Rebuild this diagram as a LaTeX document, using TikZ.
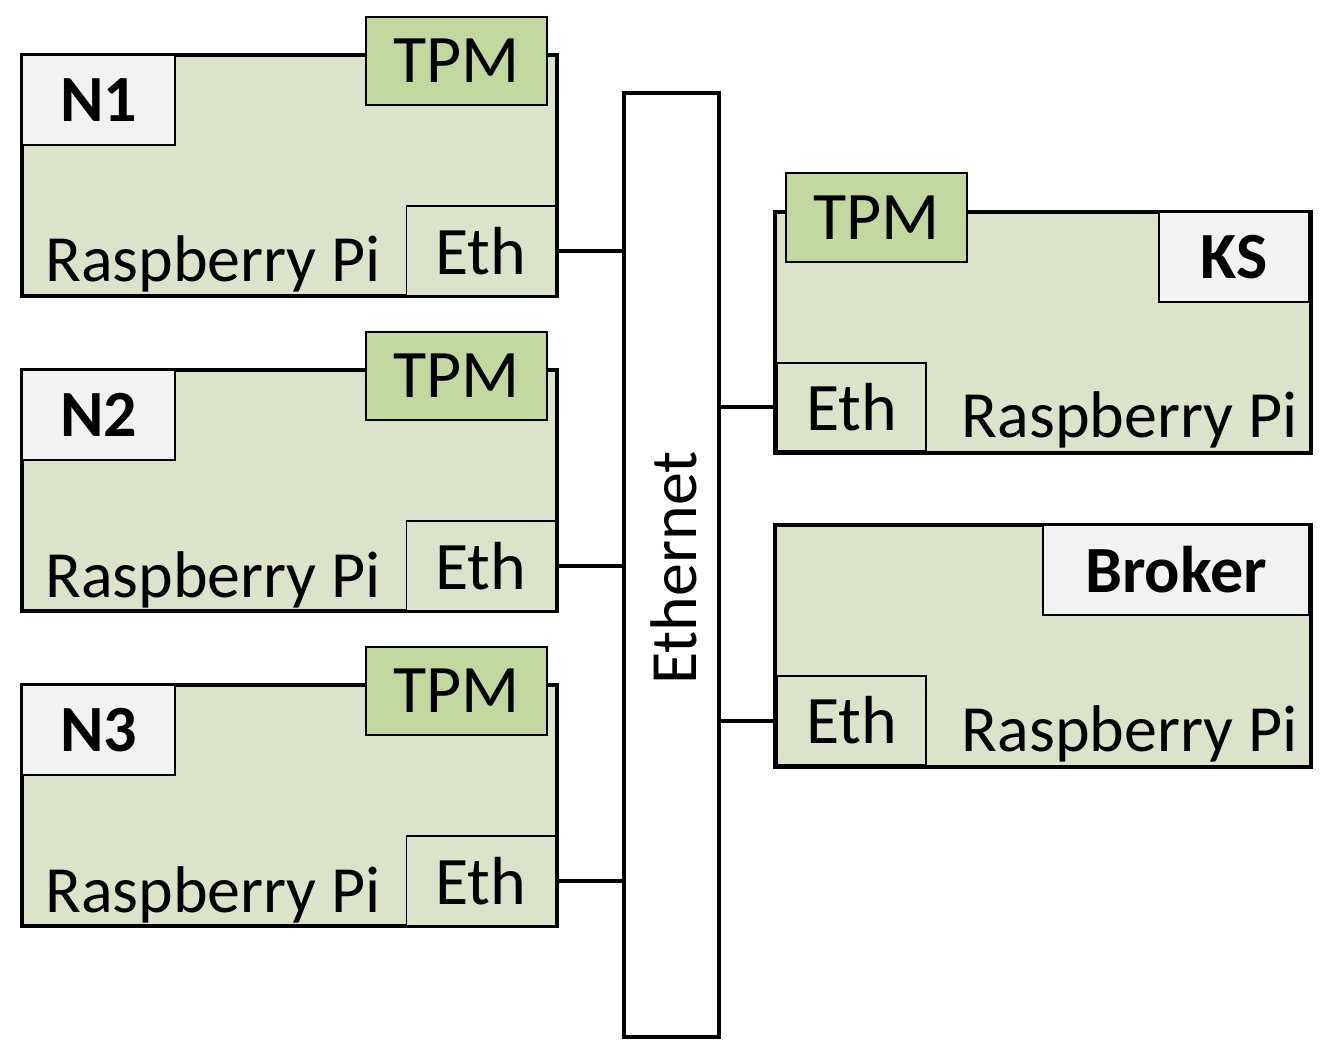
\documentclass[tikz,border=0pt]{standalone}
\usepackage{fontspec}
\setmainfont{Carlito}
\begin{document}
\begin{tikzpicture}[x=1pt,y=-1pt,
 board/.style={draw,line width=3.5pt,fill=bfill},
 box/.style={draw,line width=1.5pt},
 tpm/.style={box,fill=tfill},
 lbl/.style={box,fill=lfill},
 eth/.style={box,fill=bfill},
 big/.style={font=\fontsize{68}{68}\selectfont},
 rp/.style={font=\fontsize{66}{66}\selectfont},
 bold/.style={font=\fontsize{66}{66}\selectfont\bfseries},
 link/.style={line width=4pt}]
\definecolor{bfill}{HTML}{DCE3CB}
\definecolor{tfill}{HTML}{C3D8A0}
\definecolor{lfill}{HTML}{F2F2F2}
\useasboundingbox (0,0) rectangle (1331,1056);
\node[draw,line width=3.5pt,fill=white,minimum width=95pt,minimum height=944pt,inner sep=0] (bus) at (671.5,565) {};
\node[rotate=90,font=\fontsize{66}{66}\selectfont] (bust) at (674,568) {Ethernet};
\foreach \n/\o in {1/0,2/315,3/630}{
 \begin{scope}[yshift=-\o pt]
 \node[board,minimum width=535pt,minimum height=241pt,inner sep=0] (b\n) at (289.5,175.5) {};
 \node[tpm,minimum width=181pt,minimum height=88pt,inner sep=0,big] (t\n) at (456.5,61) {TPM};
 \node[lbl,minimum width=153pt,minimum height=90pt,inner sep=0,bold] (l\n) at (98.5,100) {N\n};
 \node[eth,minimum width=149pt,minimum height=90pt,inner sep=0,big] (e\n) at (481,251) {Eth};
 \node[rp,anchor=base west,inner sep=0] (r\n) at (45,282) {Raspberry Pi};
 \end{scope}
 \draw[link] (e\n.east) -- (e\n.east -| bus.west);
}
% KS
\node[board,minimum width=536pt,minimum height=241pt,inner sep=0] (bk) at (1043,332.5) {};
\node[tpm,minimum width=181pt,minimum height=89pt,inner sep=0,big] (tk) at (876.5,217.5) {TPM};
\node[lbl,minimum width=150pt,minimum height=90pt,inner sep=0,bold] (lk) at (1234,257) {KS};
\node[eth,minimum width=149pt,minimum height=88pt,inner sep=0,big] (ek) at (851.5,407) {Eth};
\node[rp,anchor=base east,inner sep=0] (rk) at (1298,438) {Raspberry Pi};
\draw[link] (ek.west) -- (ek.west -| bus.east);
% Broker
\node[board,minimum width=536pt,minimum height=242pt,inner sep=0] (bb) at (1043,646) {};
\node[lbl,minimum width=266pt,minimum height=90pt,inner sep=0,bold] (lb) at (1176,570) {Broker};
\node[eth,minimum width=149pt,minimum height=89pt,inner sep=0,big] (eb) at (851.5,720.5) {Eth};
\node[rp,anchor=base east,inner sep=0] (rb) at (1298,751) {Raspberry Pi};
\draw[link] (eb.west) -- (eb.west -| bus.east);
\end{tikzpicture}
\end{document}
